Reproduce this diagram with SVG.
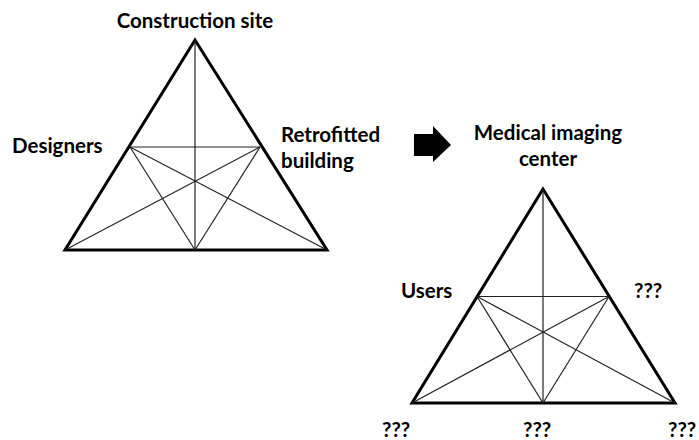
<svg xmlns="http://www.w3.org/2000/svg" width="699" height="440" viewBox="0 0 699 440">
<style>
.outer{fill:none;stroke:#000;stroke-width:3;stroke-linejoin:miter}
.inner{fill:none;stroke:#222;stroke-width:1.2}
.lbl{font-family:Lato,"Liberation Sans",sans-serif;font-weight:bold;font-size:20.5px;fill:#000}
</style>
<rect width="699" height="440" fill="#fff"/>
<g id="triangle1">
<polygon class="outer" points="195,40 65,250 327,250"/>
<g class="inner">
<line x1="195" y1="40" x2="195" y2="250"/>
<line x1="130" y1="147" x2="260" y2="147"/>
<line x1="130" y1="147" x2="195" y2="250"/>
<line x1="260" y1="147" x2="195" y2="250"/>
<line x1="130" y1="147" x2="327" y2="250"/>
<line x1="260" y1="147" x2="65" y2="250"/>
</g>
</g>
<g id="triangle2">
<polygon class="outer" points="543,189 412,403 675,403"/>
<g class="inner">
<line x1="543" y1="189" x2="543" y2="403"/>
<line x1="477" y1="296.5" x2="609" y2="296.5"/>
<line x1="477" y1="296.5" x2="543" y2="403"/>
<line x1="609" y1="296.5" x2="543" y2="403"/>
<line x1="477" y1="296.5" x2="675" y2="403"/>
<line x1="609" y1="296.5" x2="412" y2="403"/>
</g>
</g>
<g id="arrow">
<polygon fill="#000" points="414,134 433,134 433,126 451,145 433,162 433,156 414,156"/>
</g>
<g id="labels">
<text class="lbl" x="195" y="28" text-anchor="middle">Construction site</text>
<text class="lbl" x="12" y="153">Designers</text>
<text class="lbl" x="281" y="142">Retrofitted</text>
<text class="lbl" x="281" y="168">building</text>
<text class="lbl" x="548" y="140" text-anchor="middle">Medical imaging</text>
<text class="lbl" x="548" y="166" text-anchor="middle">center</text>
<text class="lbl" x="401" y="298">Users</text>
<text class="lbl" x="634" y="298">???</text>
<text class="lbl" x="382" y="437">???</text>
<text class="lbl" x="523" y="437">???</text>
<text class="lbl" x="668" y="437">???</text>
</g>
</svg>
